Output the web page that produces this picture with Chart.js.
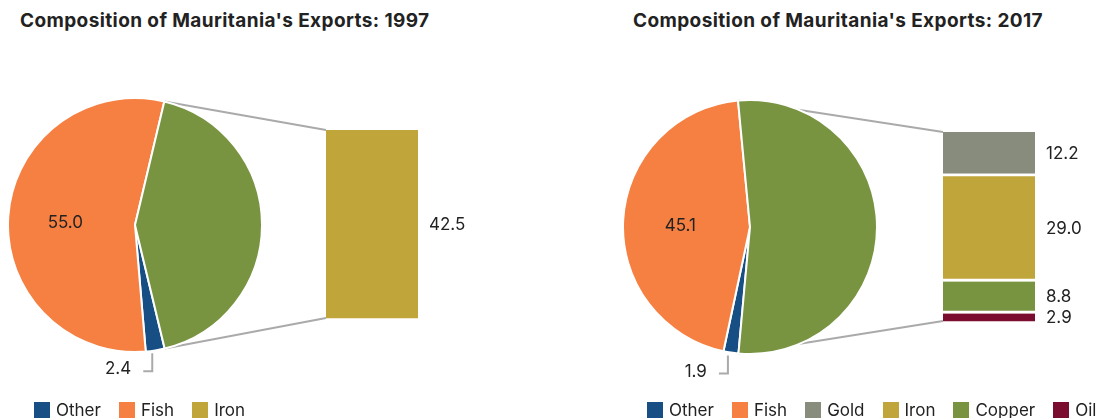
<!DOCTYPE html>
<html>
<head>
<meta charset="utf-8">
<script src="https://cdn.jsdelivr.net/npm/chart.js@4.4.1/dist/chart.umd.min.js"></script>
<style>
  body { margin: 0; background: #fff; font-family: Inter, sans-serif; color: #222; }
  #wrap { position: relative; width: 1098px; height: 418px; overflow: hidden; }
  .panel { position: absolute; top: 0; width: 549px; height: 418px; }
  .panel canvas { position: absolute; }
  .title { position: absolute; top: 9px; font-weight: 700; font-size: 19px; letter-spacing: 0.4px; white-space: nowrap; color: #222; }
  .legend { position: absolute; top: 402px; display: flex; white-space: nowrap; font-size: 17px; line-height: 16px; }
  .legend .item { display: flex; align-items: center; margin-right: 18px; }
  .legend i { display: inline-block; width: 16px; height: 16px; margin-right: 6px; }
</style>
</head>
<body>
<div id="wrap"></div>
<script>
// data
const titles = ["Composition of Mauritania's Exports: 1997", "Composition of Mauritania's Exports: 2017"];
const pieLabels = ['Other', 'Fish'];
const pie1997 = [2.4, 55.0];
const pie2017 = [1.9, 45.1];
const bar1997Labels = ['Iron'];
const bar1997 = [42.5];
const bar2017Labels = ['Gold', 'Iron', 'Copper', 'Oil'];
const bar2017 = [12.2, 29.0, 8.8, 2.9];

const colors = {
  Other: '#174f85', Fish: '#f58042', Gold: '#878c7d',
  Iron: '#c0a53a', Copper: '#789441', Oil: '#7a0d2f'
};
const restColor = '#789441';
const lineColor = '#aaaaaa';
const numFont = '17px Inter, sans-serif';

// layout of each panel (panel coords)
const panels = [
  { left: 0, titleX: 20, pieX: 7, pieY: 97, pieSize: 256,
    pad: { left: 326, right: 131, top: 130, bottom: 97 }, legendX: 34,
    pie: pie1997, barLabels: bar1997Labels, bar: bar1997 },
  { left: 549, titleX: 84, pieX: 73, pieY: 99, pieSize: 256,
    pad: { left: 394, right: 63, top: 132, bottom: 94 }, legendX: 98,
    pie: pie2017, barLabels: bar2017Labels, bar: bar2017 }
];

const wrap = document.getElementById('wrap');

panels.forEach(function (p, idx) {
  const div = document.createElement('div');
  div.className = 'panel';
  div.style.left = p.left + 'px';
  wrap.appendChild(div);

  const t = document.createElement('div');
  t.className = 'title';
  t.style.left = p.titleX + 'px';
  t.textContent = titles[idx];
  div.appendChild(t);

  // bar canvas covers the whole panel, sits under the pie
  const barCanvas = document.createElement('canvas');
  barCanvas.width = 549; barCanvas.height = 418;
  barCanvas.style.left = '0px'; barCanvas.style.top = '0px';
  div.appendChild(barCanvas);

  const pieCanvas = document.createElement('canvas');
  pieCanvas.width = p.pieSize; pieCanvas.height = p.pieSize;
  pieCanvas.style.left = p.pieX + 'px'; pieCanvas.style.top = p.pieY + 'px';
  div.appendChild(pieCanvas);

  const rest = p.bar.reduce((a, b) => a + b, 0);
  const pieData = p.pie.concat([rest]);

  // pie: label inside the Fish slice
  const pieChart = new Chart(pieCanvas, {
    type: 'pie',
    data: {
      labels: pieLabels.concat(['Rest']),
      datasets: [{
        data: pieData,
        backgroundColor: [colors.Other, colors.Fish, restColor],
        borderColor: '#fff',
        borderWidth: 2
      }]
    },
    options: {
      responsive: false,
      devicePixelRatio: 1,
      animation: false,
      rotation: 90 + rest * 3.6 / 2,
      plugins: { legend: { display: false }, tooltip: { enabled: false } }
    },
    plugins: [{
      id: 'fishLabel',
      afterDatasetsDraw(chart) {
        const arc = chart.getDatasetMeta(0).data[1];
        const mid = (arc.startAngle + arc.endAngle) / 2;
        const d = arc.outerRadius * 0.55;
        const ctx = chart.ctx;
        ctx.save();
        ctx.font = numFont;
        ctx.fillStyle = '#222';
        ctx.textAlign = 'center';
        ctx.textBaseline = 'middle';
        ctx.fillText(pieData[1].toFixed(1), arc.x + Math.cos(mid) * d, arc.y + Math.sin(mid) * d + 3);
        ctx.restore();
      }
    }]
  });

  // stacked bar: bottom to top is the reverse of the legend order
  const order = p.barLabels.map((l, i) => i).reverse();
  new Chart(barCanvas, {
    type: 'bar',
    data: {
      labels: [''],
      datasets: order.map(i => ({
        label: p.barLabels[i],
        data: [p.bar[i]],
        backgroundColor: colors[p.barLabels[i]],
        borderColor: '#fff',
        borderWidth: { top: 0, left: 0, right: 0, bottom: 3 },
        borderSkipped: false,
        barPercentage: 1,
        categoryPercentage: 1
      }))
    },
    options: {
      responsive: false,
      devicePixelRatio: 1,
      animation: false,
      layout: { padding: p.pad },
      scales: {
        x: { display: false, stacked: true },
        y: { display: false, stacked: true, min: 0, max: rest }
      },
      plugins: { legend: { display: false }, tooltip: { enabled: false } }
    },
    plugins: [{
      id: 'connectors',
      afterDraw(chart) {
        const ctx = chart.ctx;
        const arcs = pieChart.getDatasetMeta(0).data;
        const restArc = arcs[2];
        const cx = p.pieX + restArc.x, cy = p.pieY + restArc.y, r = restArc.outerRadius;
        const area = chart.chartArea;
        ctx.save();
        ctx.strokeStyle = lineColor;
        ctx.lineWidth = 2;
        // lines from the rest slice to the bar
        ctx.beginPath();
        ctx.moveTo(cx + Math.cos(restArc.startAngle) * r, cy + Math.sin(restArc.startAngle) * r);
        ctx.lineTo(area.left, area.top);
        ctx.moveTo(cx + Math.cos(restArc.endAngle) * r, cy + Math.sin(restArc.endAngle) * r);
        ctx.lineTo(area.left, area.bottom - 3);
        ctx.stroke();

        // leader line for the small Other slice
        const o = arcs[0];
        const om = (o.startAngle + o.endAngle) / 2;
        const ox = cx + Math.cos(om) * r - 3, oy = cy + Math.sin(om) * r;
        ctx.beginPath();
        ctx.moveTo(ox, oy + 3);
        ctx.lineTo(ox, oy + 21);
        ctx.lineTo(ox - 9, oy + 21);
        ctx.stroke();
        ctx.font = numFont;
        ctx.fillStyle = '#222';
        ctx.textAlign = 'right';
        ctx.textBaseline = 'middle';
        ctx.fillText(pieData[0].toFixed(1), ox - 21, oy + 19);

        // value labels right of the bar
        ctx.textAlign = 'left';
        chart.data.datasets.forEach(function (ds, di) {
          const el = chart.getDatasetMeta(di).data[0];
          const y = (el.y + el.base - 3) / 2 + 1;
          ctx.fillText(ds.data[0].toFixed(1), el.x + el.width / 2 + 11, y);
        });
        ctx.restore();
      }
    }]
  });

  // legend
  const leg = document.createElement('div');
  leg.className = 'legend';
  leg.style.left = p.legendX + 'px';
  pieLabels.concat(p.barLabels).forEach(function (name) {
    const it = document.createElement('span');
    it.className = 'item';
    it.innerHTML = '<i style="background:' + colors[name] + '"></i>' + name;
    leg.appendChild(it);
  });
  div.appendChild(leg);
});
</script>
</body>
</html>
